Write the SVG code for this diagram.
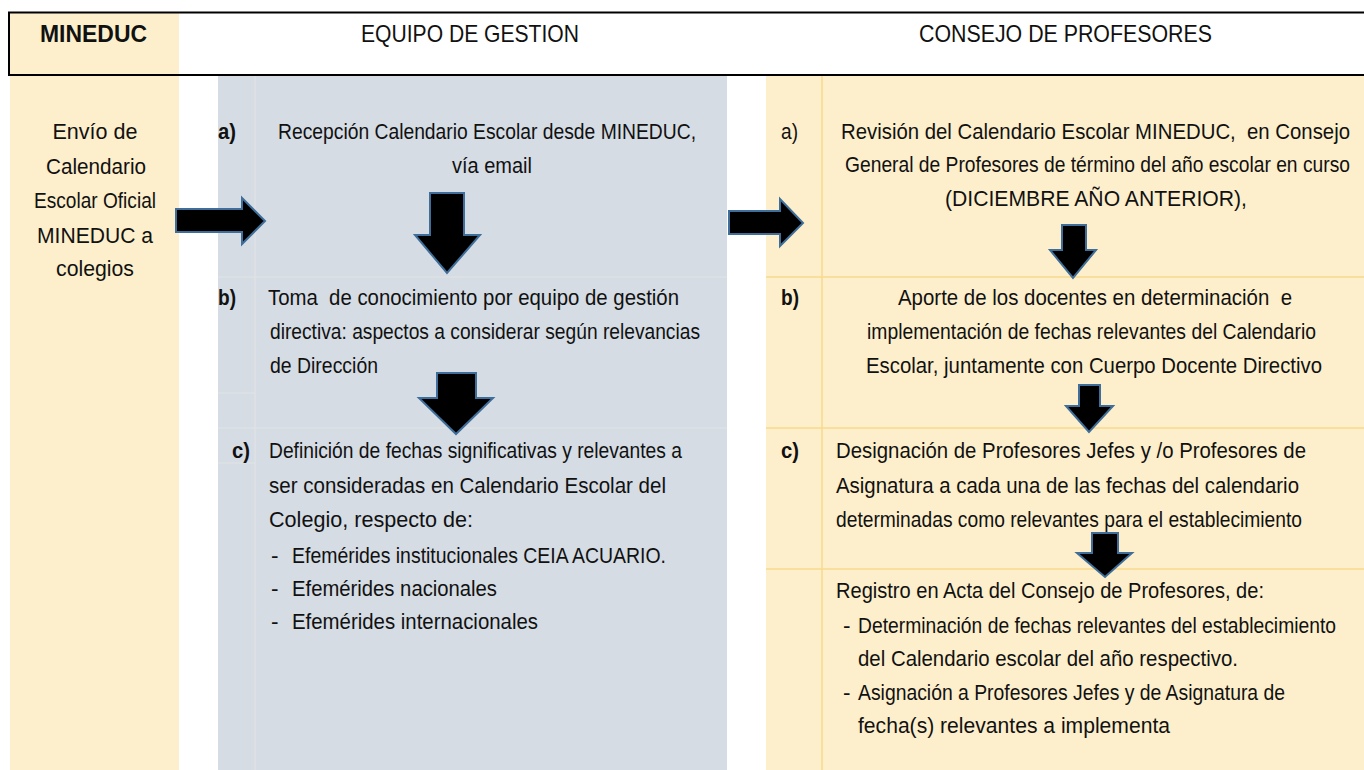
<svg xmlns="http://www.w3.org/2000/svg" width="1364" height="770" viewBox="0 0 1364 770">
<style>
.t{font-family:"Liberation Sans",Arial,sans-serif;font-size:22.5px;fill:#111}
.h{font-size:24px}
.c1{font-size:21.5px}
.b{font-weight:bold}
.gl{stroke:#E2E3E4;stroke-width:1.2;fill:none}
.yl{stroke:#F8D98C;stroke-width:1.5;fill:none}
.arr{fill:#000;stroke:#3F6E9A;stroke-width:2;stroke-linejoin:miter}
</style>
<rect width="1364" height="770" fill="#fff"/>
<g id="header">
  <rect x="10" y="13" width="169" height="62" fill="#FDEFCC"/>
  <rect x="9" y="12.5" width="1370" height="62.5" fill="none" stroke="#000" stroke-width="2"/>
  <text class="t h b" x="40" y="42" textLength="107" lengthAdjust="spacingAndGlyphs">MINEDUC</text>
  <text class="t h" x="361" y="42" textLength="218" lengthAdjust="spacingAndGlyphs">EQUIPO DE GESTION</text>
  <text class="t h" x="919" y="42" textLength="293" lengthAdjust="spacingAndGlyphs">CONSEJO DE PROFESORES</text>
</g>
<g id="mineduc">
  <rect x="10" y="76" width="169" height="694" fill="#FDEFCC"/>
  <g class="t c1" text-anchor="middle">
    <text x="95" y="139" textLength="85" lengthAdjust="spacingAndGlyphs">Envío de</text>
    <text x="96" y="174" textLength="100" lengthAdjust="spacingAndGlyphs">Calendario</text>
    <text x="95" y="208" textLength="122" lengthAdjust="spacingAndGlyphs">Escolar Oficial</text>
    <text x="95" y="243" textLength="116" lengthAdjust="spacingAndGlyphs">MINEDUC a</text>
    <text x="95" y="276" textLength="78" lengthAdjust="spacingAndGlyphs">colegios</text>
  </g>
</g>
<g id="equipo">
  <rect x="218" y="76" width="509" height="694" fill="#D5DCE4"/>
  <line class="gl" x1="255" y1="76" x2="255" y2="770"/>
  <line class="gl" x1="218" y1="277" x2="727" y2="277"/>
  <line class="gl" x1="218" y1="393" x2="255" y2="393"/>
  <line class="gl" x1="218" y1="428" x2="727" y2="428"/>
  <line class="gl" x1="218" y1="463" x2="255" y2="463"/>
  <g id="equipo-a">
    <text class="t b" x="218" y="139" textLength="18" lengthAdjust="spacingAndGlyphs">a)</text>
    <text class="t" x="278" y="139" textLength="418" lengthAdjust="spacingAndGlyphs">Recepción Calendario Escolar desde MINEDUC,</text>
    <text class="t" x="452" y="173" textLength="80" lengthAdjust="spacingAndGlyphs">vía email</text>
  </g>
  <g id="equipo-b">
    <text class="t b" x="218" y="305" textLength="18" lengthAdjust="spacingAndGlyphs">b)</text>
    <text class="t" x="268" y="305" textLength="411" lengthAdjust="spacingAndGlyphs" xml:space="preserve">Toma  de conocimiento por equipo de gestión</text>
    <text class="t" x="270" y="339" textLength="430" lengthAdjust="spacingAndGlyphs">directiva: aspectos a considerar según relevancias</text>
    <text class="t" x="270" y="373" textLength="108" lengthAdjust="spacingAndGlyphs">de Dirección</text>
  </g>
  <g id="equipo-c">
    <text class="t b" x="232" y="458" textLength="18" lengthAdjust="spacingAndGlyphs">c)</text>
    <text class="t" x="269" y="458" textLength="413" lengthAdjust="spacingAndGlyphs">Definición de fechas significativas y relevantes a</text>
    <text class="t" x="269" y="493" textLength="397" lengthAdjust="spacingAndGlyphs">ser consideradas en Calendario Escolar del</text>
    <text class="t" x="269" y="527" textLength="204" lengthAdjust="spacingAndGlyphs">Colegio, respecto de:</text>
    <text class="t" x="271" y="563">-</text>
    <text class="t" x="292" y="563" textLength="374" lengthAdjust="spacingAndGlyphs">Efemérides institucionales CEIA ACUARIO.</text>
    <text class="t" x="271" y="596">-</text>
    <text class="t" x="292" y="596" textLength="205" lengthAdjust="spacingAndGlyphs">Efemérides nacionales</text>
    <text class="t" x="271" y="629">-</text>
    <text class="t" x="292" y="629" textLength="246" lengthAdjust="spacingAndGlyphs">Efemérides internacionales</text>
  </g>
</g>
<g id="consejo">
  <rect x="766" y="76" width="598" height="694" fill="#FDEFCC"/>
  <line class="yl" x1="822" y1="76" x2="822" y2="770"/>
  <line class="yl" x1="766" y1="277" x2="1364" y2="277"/>
  <line class="yl" x1="766" y1="428" x2="1364" y2="428"/>
  <line class="yl" x1="766" y1="569" x2="1364" y2="569"/>
  <g id="consejo-a">
    <text class="t" x="781" y="139" textLength="17" lengthAdjust="spacingAndGlyphs">a)</text>
    <text class="t" x="841" y="139" textLength="509" lengthAdjust="spacingAndGlyphs" xml:space="preserve">Revisión del Calendario Escolar MINEDUC,  en Consejo</text>
    <text class="t" x="845" y="172" textLength="505" lengthAdjust="spacingAndGlyphs">General de Profesores de término del año escolar en curso</text>
    <text class="t" x="945" y="206" textLength="302" lengthAdjust="spacingAndGlyphs">(DICIEMBRE AÑO ANTERIOR),</text>
  </g>
  <g id="consejo-b">
    <text class="t b" x="781" y="305" textLength="18" lengthAdjust="spacingAndGlyphs">b)</text>
    <text class="t" x="898" y="305" textLength="394" lengthAdjust="spacingAndGlyphs" xml:space="preserve">Aporte de los docentes en determinación  e</text>
    <text class="t" x="867" y="339" textLength="449" lengthAdjust="spacingAndGlyphs">implementación de fechas relevantes del Calendario</text>
    <text class="t" x="866" y="373" textLength="456" lengthAdjust="spacingAndGlyphs">Escolar, juntamente con Cuerpo Docente Directivo</text>
  </g>
  <g id="consejo-c">
    <text class="t b" x="781" y="458" textLength="18" lengthAdjust="spacingAndGlyphs">c)</text>
    <text class="t" x="836" y="458" textLength="470" lengthAdjust="spacingAndGlyphs">Designación de Profesores Jefes y /o Profesores de</text>
    <text class="t" x="836" y="493" textLength="463" lengthAdjust="spacingAndGlyphs">Asignatura a cada una de las fechas del calendario</text>
    <text class="t" x="836" y="527" textLength="466" lengthAdjust="spacingAndGlyphs">determinadas como relevantes para el establecimiento</text>
  </g>
  <g id="consejo-d">
    <text class="t" x="836" y="598" textLength="428" lengthAdjust="spacingAndGlyphs">Registro en Acta del Consejo de Profesores, de:</text>
    <text class="t" x="843" y="633">-</text>
    <text class="t" x="858" y="633" textLength="478" lengthAdjust="spacingAndGlyphs">Determinación de fechas relevantes del establecimiento</text>
    <text class="t" x="858" y="666" textLength="380" lengthAdjust="spacingAndGlyphs">del Calendario escolar del año respectivo.</text>
    <text class="t" x="843" y="700">-</text>
    <text class="t" x="858" y="700" textLength="427" lengthAdjust="spacingAndGlyphs">Asignación a Profesores Jefes y de Asignatura de</text>
    <text class="t" x="858" y="733" textLength="312" lengthAdjust="spacingAndGlyphs">fecha(s) relevantes a implementa</text>
  </g>
</g>
<g id="connectors">
  <polygon class="arr" points="176,209 242,209 242,198 265,221 242,244 242,232 176,232"/>
  <polygon class="arr" points="729,211 780,211 780,199 803,223 780,246 780,234 729,234"/>
  <polygon class="arr" points="430,193 464,193 464,235 480,235 447,273 415,235 430,235"/>
  <polygon class="arr" points="437,373 476,373 476,398 493,398 456,434 419,398 437,398"/>
  <polygon class="arr" points="1062,225 1086,225 1086,250 1096,250 1073,278 1050,250 1062,250"/>
  <polygon class="arr" points="1079,385 1100,385 1100,406 1113,406 1089,432 1066,406 1079,406"/>
  <polygon class="arr" points="1092,533 1118,533 1118,553 1132,553 1105,577 1077,553 1092,553"/>
</g>
</svg>
